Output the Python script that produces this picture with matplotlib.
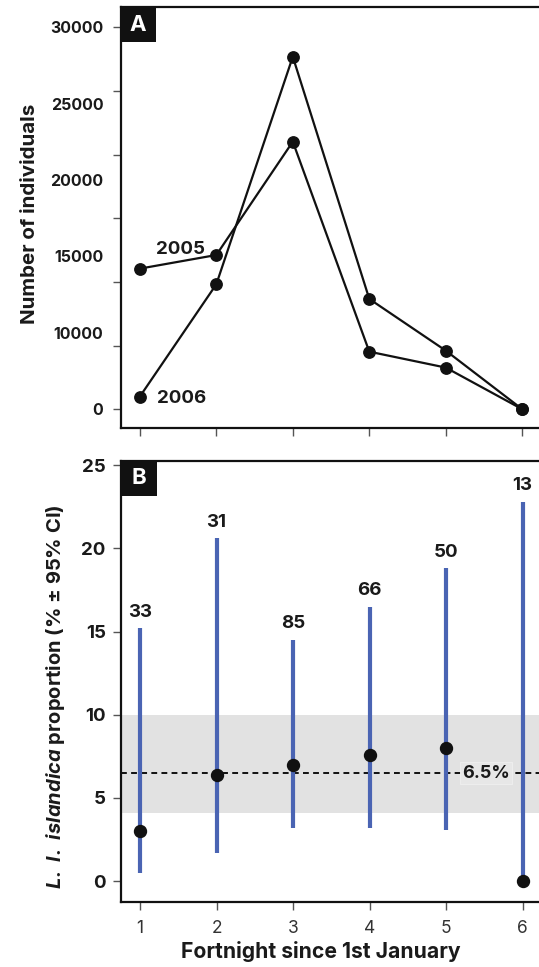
import matplotlib
matplotlib.use("Agg")
import matplotlib.pyplot as plt
from matplotlib.patches import Rectangle
import numpy as np

FONT = 'Inter'
plt.rcParams['font.family'] = [FONT, 'Liberation Sans', 'DejaVu Sans']
plt.rcParams['mathtext.fontset'] = 'custom'
plt.rcParams['mathtext.it'] = FONT + ':italic:bold'
plt.rcParams['mathtext.rm'] = FONT + ':bold'
plt.rcParams['mathtext.bf'] = FONT + ':bold'

# ---------------- data ----------------
fortnight = [1, 2, 3, 4, 5, 6]
count_2005 = [11040, 12110, 21010, 4520, 3270, 0]
count_2006 = [990, 9810, 27680, 8660, 4600, 0]
a_tick_values = [0, 5000, 10000, 15000, 20000, 25000, 30000]
a_label_text = ["0", "10000", "15000", "20000", "25000", "30000"]

prop = [3.0, 6.4, 7.0, 7.6, 8.0, 0.0]
ci_low = [0.5, 1.7, 3.2, 3.2, 3.1, 0.0]
ci_high = [15.2, 20.6, 14.5, 16.5, 18.8, 22.8]
n_birds = [33, 31, 85, 66, 50, 13]
band_low, band_high = 4.1, 10.0
mean_prop = 6.5
b_ticks = [0, 5, 10, 15, 20, 25]

W, H = 539, 967
fig = plt.figure(figsize=(W / 100, H / 100), dpi=100)

def box(l, r, t, b):
    return [l / W, 1 - b / H, (r - l) / W, (b - t) / H]

axA = fig.add_axes(box(120.7, 541.4, 7.3, 427.7))
axB = fig.add_axes(box(121, 541.7, 461, 902))

BLUE = '#4a64b3'
TICKC = '#555555'
TXT = '#1a1a1a'

for ax in (axA, axB):
    for s in ax.spines.values():
        s.set_linewidth(1.6)
        s.set_color('#111111')
    ax.set_xlim(0.75, 6.25)
    ax.tick_params(axis='both', which='major', direction='out', length=6,
                   width=1.0, color=TICKC)

# ---------------- panel A ----------------
for counts in (count_2005, count_2006):
    axA.plot(fortnight, counts, color='#111111', lw=1.6, marker='o', ms=8.2,
             mfc='#111111', mec='#111111', zorder=3)
axA.set_ylim(-1450, 31560)
axA.set_xticks(fortnight)
axA.set_xticklabels([])
axA.yaxis.remove_overlapping_locs = False
axA.set_yticks(a_tick_values)
axA.set_yticklabels([])
label_pos = np.linspace(a_tick_values[0], a_tick_values[-1], len(a_label_text))
axA.set_yticks(label_pos, minor=True)
axA.set_yticklabels(a_label_text, minor=True, fontsize=11.5, fontweight='bold',
                    color=TXT)
axA.tick_params(axis='y', which='minor', length=0, pad=12.5)
axA.tick_params(axis='x', which='minor', length=0)
axA.set_ylabel('Number of individuals', fontsize=14.8, fontweight='bold',
               color=TXT, va='center')
axA.yaxis.set_label_coords((30 - 120.7) / 420.7, (427.7 - 213.5) / 420.4)

axA.annotate('2005', xy=(fortnight[0], count_2005[0]), xytext=(16, 19),
             textcoords='offset pixels', ha='left', va='center', fontsize=13.5,
             fontweight='bold', color=TXT)
axA.annotate('2006', xy=(fortnight[0], count_2006[0]), xytext=(17, -2),
             textcoords='offset pixels', ha='left', va='center', fontsize=13.5,
             fontweight='bold', color=TXT)

def panel_letter(ax, letter, w_px, h_px, ax_w, ax_h):
    ax.add_patch(Rectangle((0, 1 - h_px / ax_h), w_px / ax_w, h_px / ax_h,
                           transform=ax.transAxes, facecolor='#111111',
                           edgecolor='none', clip_on=False, zorder=10))
    ax.text(w_px / ax_w / 2, 1 - h_px / ax_h / 2, letter, transform=ax.transAxes,
            ha='center', va='center', color='white', fontsize=16,
            fontweight='bold', zorder=11)

panel_letter(axA, 'A', 35, 35, 420.7, 420.4)

# ---------------- panel B ----------------
axB.set_ylim(-1.25, 25.25)
axB.axhspan(band_low, band_high, facecolor='#e2e2e2', edgecolor='none', zorder=0)
axB.axhline(mean_prop, color='#111111', lw=1.4, ls=(0, (3, 2.2)), zorder=1)
axB.vlines(fortnight, ci_low, ci_high, color=BLUE, lw=3.0, zorder=2)
axB.plot(fortnight, prop, ls='none', marker='o', ms=8.6, mfc='#111111',
         mec='#111111', zorder=4)
for x, hi, n in zip(fortnight, ci_high, n_birds):
    axB.annotate(str(n), xy=(x, hi), xytext=(0, 16), textcoords='offset pixels',
                 ha='center', va='center', fontsize=13.5, fontweight='bold',
                 color=TXT)
axB.text(5.52, mean_prop, '6.5%', ha='center', va='center', fontsize=13,
         fontweight='bold', color=TXT, zorder=3,
         bbox=dict(boxstyle='square,pad=0.12', facecolor='#e7e7e7',
                   edgecolor='#efefef', lw=0.6))

axB.set_xticks(fortnight)
axB.set_xticklabels([str(f) for f in fortnight], fontsize=12.5, color='#333333')
axB.tick_params(axis='x', pad=7)
axB.set_yticks(b_ticks)
axB.set_yticklabels([str(t) for t in b_ticks], fontsize=13.5, fontweight='bold',
                    color=TXT)
axB.tick_params(axis='y', pad=5)
axB.set_ylabel(r'$L.\ l.\ islandica$ proportion (% ± 95% CI)', fontsize=14.5,
               fontweight='bold', color=TXT, va='center')
axB.yaxis.set_label_coords((56 - 121) / 420.7, (902 - 697) / 441)
axB.set_xlabel('Fortnight since 1st January', fontsize=15.2, fontweight='bold',
               color=TXT, va='center')
axB.xaxis.set_label_coords((321 - 121) / 420.7, (902 - 952) / 441)

panel_letter(axB, 'B', 35.5, 35, 420.7, 441)

fig.savefig('out.png', dpi=100)
